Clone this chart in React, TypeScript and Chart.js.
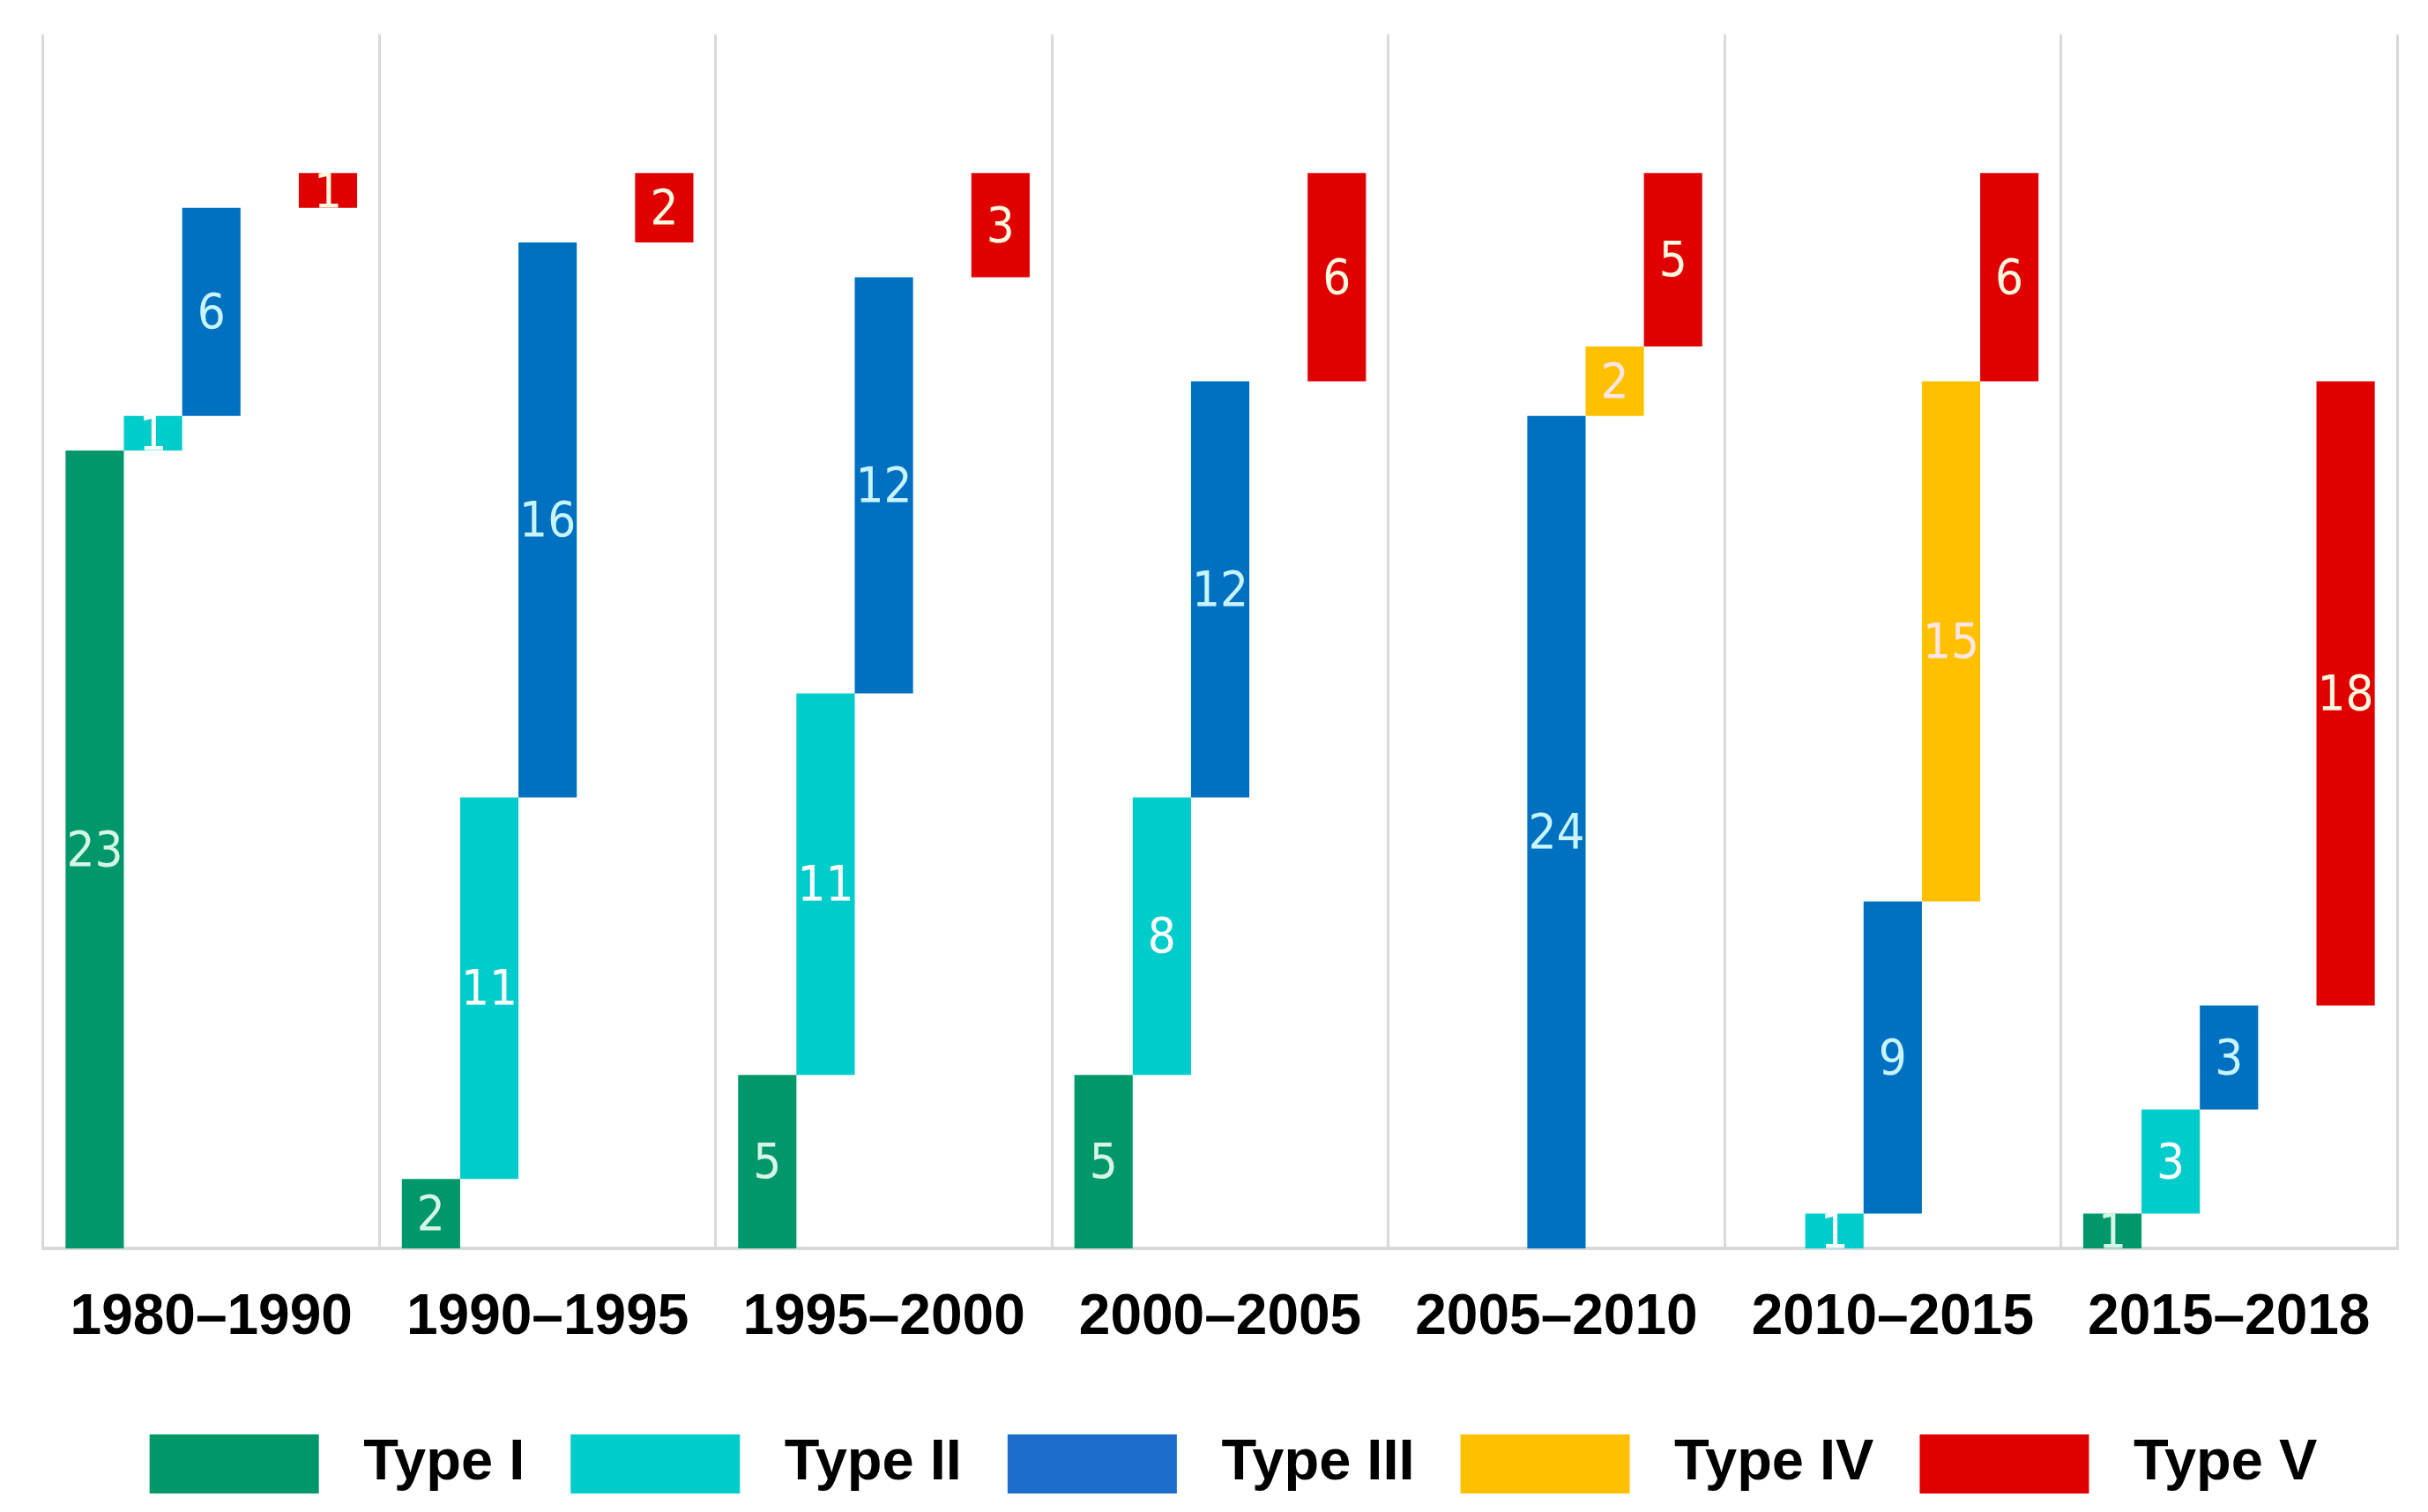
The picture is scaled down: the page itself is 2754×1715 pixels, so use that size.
import React, { useEffect, useRef } from "react";
import { Chart, registerables } from "chart.js";

Chart.register(...registerables);

const categories = ["1980–1990", "1990–1995", "1995–2000", "2000–2005", "2005–2010", "2010–2015", "2015–2018"];
const seriesNames = ["Type I", "Type II", "Type III", "Type IV", "Type V"];
const typeI = [23, 2, 5, 5, 0, 0, 1];
const typeII = [1, 11, 11, 8, 0, 1, 3];
const typeIII = [6, 16, 12, 12, 24, 9, 3];
const typeIV = [0, 0, 0, 0, 2, 15, 0];
const typeV = [1, 2, 3, 6, 5, 6, 18];

const colors = ["#00986a", "#00cccc", "#0070c0", "#ffc000", "#e00000"];
const legendColors = ["#00986a", "#00cccc", "#1c6ccb", "#ffc000", "#e00000"];
const labelColors = ["#d6f5e6", "#ffffff", "#c8f4ff", "#ffe6e6", "#fff8e0"];

const LABEL_FONT = "'Liberation Sans Narrow', 'DejaVu Sans Condensed', sans-serif";
const BOLD_FONT = "'Liberation Sans', Arial, sans-serif";

const valueLabels = {
  id: "valueLabels",
  afterDatasetsDraw(chart: any) {
    const ctx = chart.ctx;
    ctx.save();
    ctx.font = `56px ${LABEL_FONT}`;
    ctx.textAlign = "center";
    ctx.textBaseline = "middle";
    chart.data.datasets.forEach((ds: any, di: number) => {
      const meta = chart.getDatasetMeta(di);
      meta.data.forEach((el: any, i: number) => {
        const v = ds.rawValues[i];
        if (!v) return;
        const y = (el.y + el.base) / 2 + 4;
        ctx.fillStyle = labelColors[di];
        ctx.fillText(String(v), el.x, y);
      });
    });
    ctx.restore();
  },
};

const legendShift = {
  id: "legendShift",
  afterLayout(chart: any) {
    const l = chart.legend;
    if (l) {
      l.left += 15;
      l.right += 15;
    }
  },
};

export default function App() {
  const ref = useRef<HTMLCanvasElement | null>(null);

  useEffect(() => {
    if (!ref.current) return;
    const all = [typeI, typeII, typeIII, typeIV, typeV];
    const cum = categories.map(() => 0);
    const datasets = all.map((vals, di) => {
      const data = vals.map((v, i) => {
        const start = cum[i];
        cum[i] += v;
        return v > 0 ? [start, start + v] : null;
      });
      return {
        label: seriesNames[di],
        data,
        rawValues: vals,
        backgroundColor: colors[di],
        borderWidth: 0,
        categoryPercentage: 0.867,
        barPercentage: 1.0,
      };
    });

    const chart = new Chart(ref.current, {
      type: "bar",
      data: { labels: categories, datasets: datasets as any },
      options: {
        animation: false,
        responsive: true,
        maintainAspectRatio: false,
        layout: { padding: { top: 39, left: 49, right: 35, bottom: 11 } },
        plugins: {
          tooltip: { enabled: false },
          legend: {
            position: "bottom",
            labels: {
              boxWidth: 192,
              boxHeight: 67,
              padding: 52,
              color: "#000000",
              font: { family: BOLD_FONT, size: 65, weight: "bold" },
              generateLabels: () =>
                seriesNames.map((n, i) => ({
                  text: " " + n,
                  fillStyle: legendColors[i],
                  strokeStyle: legendColors[i],
                  lineWidth: 0,
                  hidden: false,
                  datasetIndex: i,
                })),
            },
          },
        },
        scales: {
          x: {
            grid: { display: true, offset: true, color: "#d9d9d9", lineWidth: 3, drawTicks: false },
            border: { display: true, color: "#d9d9d9", width: 4 },
            ticks: {
              color: "#000000",
              padding: 52,
              font: { family: BOLD_FONT, size: 64, weight: "bold", lineHeight: 0.86 },
              maxRotation: 0,
            },
          },
          y: { display: false, min: 0, max: 35 },
        },
      },
      plugins: [valueLabels, legendShift],
    });
    return () => chart.destroy();
  }, []);

  return (
    <div style={{ position: "fixed", left: 0, top: 0, width: "2754px", height: "1715px", background: "#fff" }}>
      <canvas ref={ref} />
    </div>
  );
}
